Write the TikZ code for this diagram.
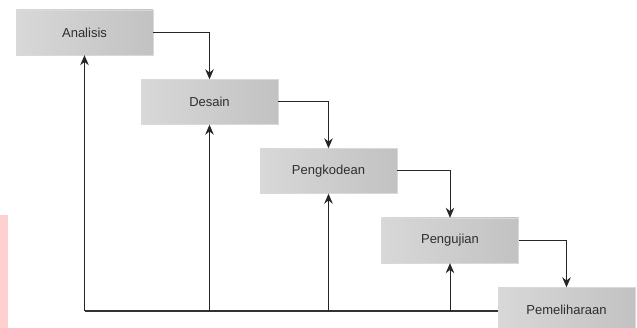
\documentclass[tikz,border=0pt]{standalone}
\usepackage{fontspec}
\setmainfont{Liberation Sans}
\usetikzlibrary{arrows.meta,shadings}
\definecolor{txt}{HTML}{2E2E2E}
\definecolor{boxL}{HTML}{D8D8D8}
\definecolor{boxR}{HTML}{C2C2C2}
\definecolor{wm}{HTML}{FFD0D0}
\tikzset{
  phase/.style={minimum width=137pt, minimum height=45pt, inner sep=0pt,
    draw=gray!30, line width=0.4pt, left color=boxL, right color=boxR,
    text=txt, font=\fontsize{13}{15}\selectfont},
  flow/.style={draw=black!85, line width=1pt, -{Stealth[length=10pt,width=8.5pt]}},
  link/.style={draw=black!80, line width=1.1pt}
}
\begin{document}
\begin{tikzpicture}[x=1pt,y=-1pt]
\useasboundingbox (0,0) rectangle (637,328);
\fill[wm] (0,215) rectangle (8,328);
\node[phase] (A) at (84.5,32.5) {Analisis};
\node[phase] (B) at (209.5,102) {Desain};
\node[phase] (C) at (328.5,171) {Pengkodean};
\node[phase] (D) at (450,240.5) {Pengujian};
\node[phase] (E) at (566.5,310) {Pemeliharaan};
\draw[flow] (A.east) -| (B.north);
\draw[flow] (B.east) -| (C.north);
\draw[flow] (C.east) -| (D.north);
\draw[flow] (D.east) -| (E.north);
\coordinate (base) at (84.5,311);
\draw[link] (E.west |- base) -- (base);
\draw[flow] (base) -- (A.south);
\draw[flow] (B |- base) -- (B.south);
\draw[flow] (C |- base) -- (C.south);
\draw[flow] (D |- base) -- (D.south);
\end{tikzpicture}
\end{document}
